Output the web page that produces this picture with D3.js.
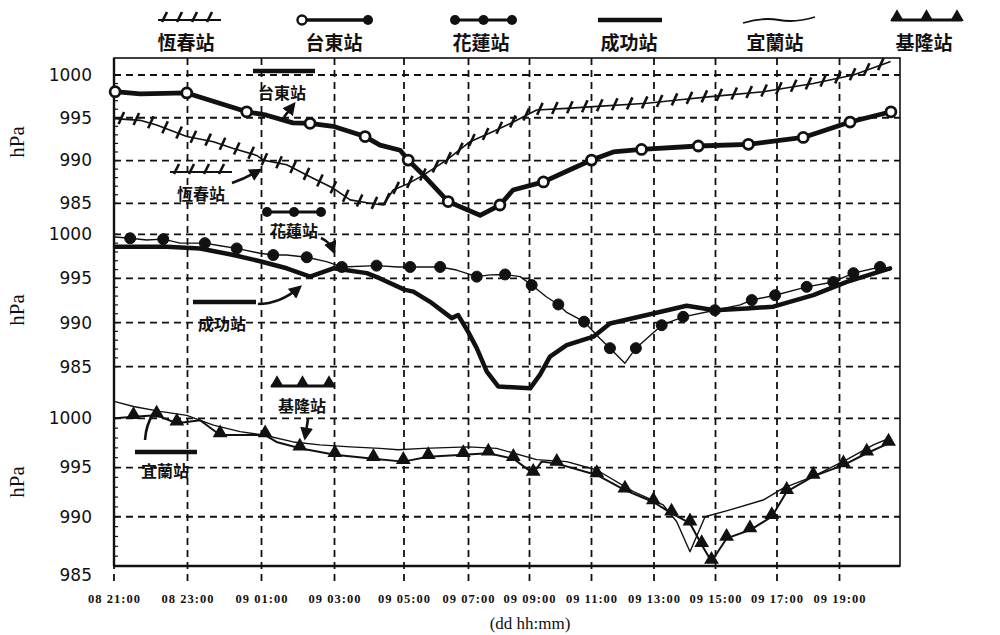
<!DOCTYPE html>
<html>
<head>
<meta charset="utf-8">
<title></title>
<style>
body { margin: 0; background: #fff; }
svg { display: block; }
.grid line { stroke: #111; stroke-width: 1.8px; stroke-dasharray: 7,5; }
.ytick text { font: 17px "DejaVu Sans", sans-serif; fill: #111; }
.xtick text { font: bold 12.5px "Liberation Serif", serif; fill: #111; letter-spacing: 1px; }
.unit { font: 21px "Liberation Serif", serif; fill: #111; }
.cjk { font-family: "Noto Sans CJK TC", sans-serif; font-weight: 700; fill: #111; }
</style>
</head>
<body>
<script src="https://cdn.jsdelivr.net/npm/d3@7"></script>
<script>

// hours after 08 21:00
var tickHours = [0, 2, 4, 6, 8, 10, 12, 14, 16, 18, 20, 22];
var tickLabels = ["08 21:00", "08 23:00", "09 01:00", "09 03:00", "09 05:00", "09 07:00",
                  "09 09:00", "09 11:00", "09 13:00", "09 15:00", "09 17:00", "09 19:00"];
var yTicks = [1000, 995, 990, 985];
var stations = ["恆春站", "台東站", "花蓮站", "成功站", "宜蘭站", "基隆站"];

// top panel
var hengchun = [[0.03,994.9],[0.71,994.7],[1.16,994.15],[1.98,992.8],[2.7,992.2],[3.24,991.4],
  [3.87,990.6],[4.05,990.05],[4.69,989.5],[5.33,988.1],[5.97,986.75],[6.45,985.4],[7.02,985.0],
  [7.4,984.8],[7.69,986.55],[8.13,987.3],[8.6,988.3],[9.32,990.05],[10.05,992.2],[10.81,993.4],
  [11.47,994.5],[12.23,995.9],[13.2,996.1],[14.06,996.3],[15.77,996.7],[16.85,997.1],[17.93,997.5],
  [19.55,998.05],[21.16,999.0],[22.46,1000.0],[23.67,1001.55]];
var taitung = [[0.03,998.05],[0.71,997.8],[1.98,997.9],[3.6,995.7],[4.14,995.3],[4.86,994.4],
  [5.33,994.35],[5.96,994.0],[6.88,992.8],[7.31,991.8],[7.89,991.2],[8.13,990.05],[8.6,988.3],
  [9.37,985.2],[10.38,983.6],[11.03,984.8],[11.46,986.55],[12.45,987.5],[13.41,989.1],[14.0,990.05],
  [14.7,991.0],[15.6,991.3],[17.44,991.7],[19.07,991.9],[20.84,992.7],[22.35,994.5],[23.7,995.7]];
var taitungMarks = [0, 2, 3, 6, 8, 11, 13, 15, 17, 19, 21, 22, 23, 24, 25, 26];

// middle panel
var hualien = [[0.03,999.7],[0.44,999.55],[0.89,999.35],[1.34,999.45],[1.8,999.0],[2.47,999.0],
  [2.88,998.7],[3.33,998.4],[3.96,997.85],[4.32,997.65],[4.69,997.65],[5.24,997.4],[5.78,996.9],
  [6.21,996.3],[7.21,996.45],[7.83,996.3],[8.19,996.3],[9.12,996.3],[9.63,995.95],[10.27,995.2],
  [10.7,995.4],[11.2,995.45],[11.69,995.2],[12.07,994.25],[12.55,992.9],[12.93,992.05],[13.2,991.15],
  [13.76,990.1],[14.27,988.2],[14.59,987.1],[15.07,985.4],[15.42,987.1],[15.77,988.2],[16.25,989.7],
  [16.95,990.65],[17.98,991.4],[18.8,992.0],[19.18,992.55],[19.94,993.1],[20.95,994.05],[21.8,994.6],
  [22.46,995.6],[23.34,996.3],[23.67,995.95]];
var hualienMarks = [1, 3, 5, 7, 9, 11, 13, 14, 16, 17, 19, 21, 23, 25, 27, 29, 31, 33, 34, 35,
  37, 38, 39, 40, 41, 42];
var chenggong = [[0.03,998.6],[1.43,998.6],[2.34,998.4],[3.24,997.65],[3.96,996.95],[4.69,996.15],
  [5.33,995.2],[5.97,996.15],[6.93,995.6],[7.31,995.0],[8.03,993.7],[8.29,993.5],[8.81,992.35],
  [9.48,990.5],[9.68,990.85],[9.99,988.95],[10.27,987.1],[10.6,984.45],[10.98,982.75],[12.02,982.55],
  [12.34,984.1],[12.66,986.15],[13.2,987.45],[14.06,988.4],[14.59,989.9],[15.77,990.85],[17.06,991.9],
  [17.98,991.4],[19.01,991.6],[19.88,991.8],[21.16,993.1],[22.24,994.6],[23.67,996.15]];

// bottom panel
var yilan = [[0.03,1001.7],[0.53,1001.2],[1.25,1000.7],[1.98,1000.3],[2.7,999.3],[3.42,998.65],
  [4.05,998.3],[4.87,997.6],[5.6,997.3],[6.45,997.1],[7.31,996.95],[7.83,996.8],[8.6,996.95],
  [9.99,997.1],[10.92,996.95],[12.23,995.8],[13.2,995.6],[14.17,994.75],[15.34,992.55],[16.3,991.2],
  [16.74,989.5],[17.17,986.45],[17.66,990.0],[18.47,990.7],[19.55,991.7],[20.2,992.9],[21.16,994.1],
  [22.24,995.8],[23.12,997.3],[23.67,998.0]];
var keelung = [[0.03,1000.0],[0.53,1000.15],[1.16,1000.3],[1.71,999.5],[2.34,999.8],[2.88,998.3],
  [4.1,998.3],[4.41,997.6],[5.05,996.95],[6.01,996.3],[7.12,995.9],[7.98,995.6],[8.75,996.1],
  [9.84,996.3],[10.65,996.45],[11.47,995.9],[12.12,994.4],[12.39,995.6],[12.88,995.4],[14.17,994.25],
  [15.07,992.7],[15.98,991.5],[16.57,990.35],[17.17,989.35],[17.55,987.15],[17.87,985.45],[18.36,987.8],
  [19.12,988.65],[19.83,990.0],[20.31,992.55],[21.16,994.1],[22.13,995.25],[22.9,996.45],[23.62,997.45]];
var keelungMarks = [1, 2, 3, 5, 6, 8, 9, 10, 11, 12, 13, 14, 15, 16, 18, 19, 20, 21, 22, 23, 24, 25,
  26, 27, 28, 29, 30, 31, 32, 33];

var width = 1000, height = 635;
var plotL = 114, plotR = 900, plotT = 58, plotB = 566;

// the scanned time axis is not evenly spaced, so the scale is piecewise
var x = d3.scaleLinear()
    .domain(d3.range(0, 25, 2))
    .range([114, 187.5, 261.5, 334.5, 404, 468.5, 529.5, 591.5, 654, 715.5, 777, 839.5, 900]);

var yTop = d3.scaleLinear().domain([985, 1000]).range([203.3, 75]);
var yMid = d3.scaleLinear().domain([985, 1000]).range([366.7, 234.3]);
var yBot = d3.scaleLinear().domain([985, 1000]).range([566, 418.3]);
var panels = [yTop, yMid, yBot];

var svg = d3.select("body").append("svg")
    .attr("width", width)
    .attr("height", height);

var defs = svg.append("defs");
defs.append("marker")
    .attr("id", "arrow")
    .attr("viewBox", "0 0 10 10")
    .attr("refX", 8).attr("refY", 5)
    .attr("markerWidth", 5).attr("markerHeight", 5)
    .attr("markerUnits", "strokeWidth")
    .attr("orient", "auto")
  .append("path")
    .attr("d", "M0,0L10,5L0,10z")
    .attr("fill", "#111");

// grid
var grid = svg.append("g").attr("class", "grid");
grid.selectAll(".v")
    .data(tickHours)
    .enter().append("line")
    .attr("x1", d => x(d)).attr("x2", d => x(d))
    .attr("y1", plotT).attr("y2", plotB + 16);

panels.forEach(function(y) {
  grid.append("g").selectAll("line")
      .data(yTicks)
      .enter().append("line")
      .attr("x1", plotL).attr("x2", plotR)
      .attr("y1", d => y(d)).attr("y2", d => y(d));
});

// frame
svg.append("rect")
    .attr("x", plotL).attr("y", plotT)
    .attr("width", plotR - plotL).attr("height", plotB - plotT)
    .attr("fill", "none").attr("stroke", "#111").attr("stroke-width", 1.6);
svg.append("line")
    .attr("x1", plotL).attr("x2", plotL).attr("y1", plotT).attr("y2", plotB)
    .attr("stroke", "#111").attr("stroke-width", 2.4);
svg.append("line")
    .attr("x1", plotL).attr("x2", plotR).attr("y1", plotB).attr("y2", plotB)
    .attr("stroke", "#111").attr("stroke-width", 2.4);

// minor ticks along the left axis
panels.forEach(function(y) {
  svg.append("g").selectAll("line")
      .data(d3.range(985, 1001, 1))
      .enter().append("line")
      .attr("x1", plotL).attr("x2", plotL + 4)
      .attr("y1", d => y(d)).attr("y2", d => y(d))
      .attr("stroke", "#111").attr("stroke-width", 1.2);
});

// y axes
panels.forEach(function(y, i) {
  var g = svg.append("g")
      .attr("class", "ytick")
      .attr("transform", "translate(92,0)")
      .call(d3.axisLeft(y).tickValues(yTicks).tickSize(0).tickPadding(0).tickFormat(d3.format("d")));
  g.select(".domain").remove();
  if (i == 2) {
    g.selectAll(".tick").filter(d => d == 985).select("text").attr("dy", "0.85em");
  }
});

// unit labels
[142, 310, 482].forEach(function(cy) {
  svg.append("text")
      .attr("class", "unit")
      .attr("transform", "translate(24," + cy + ") rotate(-90)")
      .attr("text-anchor", "middle")
      .text("hPa");
});

// x axis labels
var xg = svg.append("g")
    .attr("class", "xtick")
    .attr("transform", "translate(0,594)")
    .call(d3.axisBottom(x).tickValues(tickHours).tickSize(0).tickPadding(0)
      .tickFormat((d, i) => tickLabels[i]));
xg.select(".domain").remove();

svg.append("text")
    .attr("x", 530).attr("y", 629)
    .attr("text-anchor", "middle")
    .style("font", "17px 'Liberation Serif', serif")
    .style("fill", "#111")
    .text("(dd hh:mm)");

// series helpers
function drawLine(data, y, w) {
  return svg.append("path")
      .datum(data)
      .attr("fill", "none")
      .attr("stroke", "#111")
      .attr("stroke-width", w)
      .attr("stroke-linejoin", "round")
      .attr("stroke-linecap", "round")
      .attr("d", d3.line().x(d => x(d[0])).y(d => y(d[1])));
}

function hatches(path, step) {
  var node = path.node(), L = node.getTotalLength();
  var pts = d3.range(6, L, step).map(s => node.getPointAtLength(s));
  svg.append("g").selectAll("line")
      .data(pts)
      .enter().append("line")
      .attr("x1", p => p.x - 2.5).attr("y1", p => p.y + 5)
      .attr("x2", p => p.x + 3).attr("y2", p => p.y - 7)
      .attr("stroke", "#111").attr("stroke-width", 2.6);
}

function circles(data, idx, y, open) {
  svg.append("g").selectAll("circle")
      .data(idx.map(i => data[i]))
      .enter().append("circle")
      .attr("cx", d => x(d[0])).attr("cy", d => y(d[1]))
      .attr("r", open ? 5 : 5.5)
      .attr("fill", open ? "#fff" : "#111")
      .attr("stroke", "#111").attr("stroke-width", open ? 2.8 : 1);
}

function triangles(data, idx, y) {
  svg.append("g").selectAll("path")
      .data(idx.map(i => data[i]))
      .enter().append("path")
      .attr("transform", d => "translate(" + x(d[0]) + "," + (y(d[1]) - 2) + ")")
      .attr("d", d3.symbol(d3.symbolTriangle, 95))
      .attr("fill", "#111");
}

// top panel
hatches(drawLine(hengchun, yTop, 1.6), 15);
drawLine(taitung, yTop, 4.8);
circles(taitung, taitungMarks, yTop, true);

// middle panel
drawLine(hualien, yMid, 1.4);
circles(hualien, hualienMarks, yMid, false);
drawLine(chenggong, yMid, 4.5);

// bottom panel
drawLine(yilan, yBot, 1.4);
drawLine(keelung, yBot, 2);
triangles(keelung, keelungMarks, yBot);

// sample strokes used by the legend and the in-plot labels
function sample(kind, x0, x1, y0) {
  var g = svg.append("g");
  if (kind == "hatch") {
    g.append("line").attr("x1", x0).attr("x2", x1).attr("y1", y0).attr("y2", y0)
        .attr("stroke", "#111").attr("stroke-width", 2);
    d3.range(x0 + 6, x1, 15).forEach(function(px) {
      g.append("line").attr("x1", px - 2).attr("y1", y0 + 2).attr("x2", px + 3).attr("y2", y0 - 8)
          .attr("stroke", "#111").attr("stroke-width", 2.6);
    });
  } else if (kind == "open") {
    g.append("line").attr("x1", x0).attr("x2", x1).attr("y1", y0).attr("y2", y0)
        .attr("stroke", "#111").attr("stroke-width", 3.5);
    g.append("circle").attr("cx", x0 + 3).attr("cy", y0).attr("r", 4.5)
        .attr("fill", "#fff").attr("stroke", "#111").attr("stroke-width", 2.4);
    g.append("circle").attr("cx", x1 - 3).attr("cy", y0).attr("r", 5).attr("fill", "#111");
  } else if (kind == "dots") {
    g.append("line").attr("x1", x0).attr("x2", x1).attr("y1", y0).attr("y2", y0)
        .attr("stroke", "#111").attr("stroke-width", 3);
    [x0 + 4, (x0 + x1) / 2, x1 - 4].forEach(function(px) {
      g.append("circle").attr("cx", px).attr("cy", y0).attr("r", 5).attr("fill", "#111");
    });
  } else if (kind == "thick") {
    g.append("line").attr("x1", x0).attr("x2", x1).attr("y1", y0).attr("y2", y0)
        .attr("stroke", "#111").attr("stroke-width", 4.5);
  } else if (kind == "thin") {
    g.append("path")
        .attr("d", "M" + x0 + "," + (y0 + 3) + "Q" + (x0 + 20) + "," + (y0 - 3) + " " + (x0 + 36) + "," + y0 +
          "T" + x1 + "," + (y0 - 3))
        .attr("fill", "none").attr("stroke", "#111").attr("stroke-width", 1.8);
  } else if (kind == "tri") {
    g.append("line").attr("x1", x0).attr("x2", x1).attr("y1", y0).attr("y2", y0)
        .attr("stroke", "#111").attr("stroke-width", 3);
    [x0 + 6, (x0 + x1) / 2, x1 - 5].forEach(function(px) {
      g.append("path").attr("transform", "translate(" + px + "," + (y0 - 3) + ")")
          .attr("d", d3.symbol(d3.symbolTriangle, 80)).attr("fill", "#111");
    });
  }
}

function label(text, cx, cy, size) {
  svg.append("text")
      .attr("class", "cjk")
      .attr("x", cx).attr("y", cy)
      .attr("text-anchor", "middle")
      .attr("dy", "0.36em")
      .style("font-size", size + "px")
      .text(text);
}

function arrow(d, head) {
  var p = svg.append("path")
      .attr("d", d)
      .attr("fill", "none")
      .attr("stroke", "#111")
      .attr("stroke-width", 2.6);
  if (head) p.attr("marker-end", "url(#arrow)");
}

// legend across the top
var kinds = ["hatch", "open", "dots", "thick", "thin", "tri"];
var legendX = [[158, 221], [299, 371], [451, 516], [598, 662], [743, 815], [891, 962]];
var legendText = [186, 334, 481, 629, 775, 924];
stations.forEach(function(s, i) {
  sample(kinds[i], legendX[i][0], legendX[i][1], 20);
  label(s, legendText[i], 43, 19);
});

// labels inside the plot
sample("thick", 253, 315, 71);
label(stations[1], 282, 93, 16);
arrow("M284,117L294,104", true);

sample("hatch", 170, 232, 172);
label(stations[0], 201, 194, 16);
arrow("M232,183Q246,178 260,170", true);

sample("dots", 263, 325, 212);
label(stations[2], 294, 231, 16);
arrow("M321,238Q330,242 334,252", true);

sample("thick", 193, 256, 302);
label(stations[3], 222, 324, 16);
arrow("M258,304Q280,304 300,287", true);

sample("tri", 271, 334, 386);
label(stations[5], 302, 406, 16);
arrow("M308,419L305,438", true);

sample("thick", 135, 197, 452);
label(stations[4], 165, 471, 16);
arrow("M145,440Q146,425 153,414", false);

</script>
</body>
</html>
